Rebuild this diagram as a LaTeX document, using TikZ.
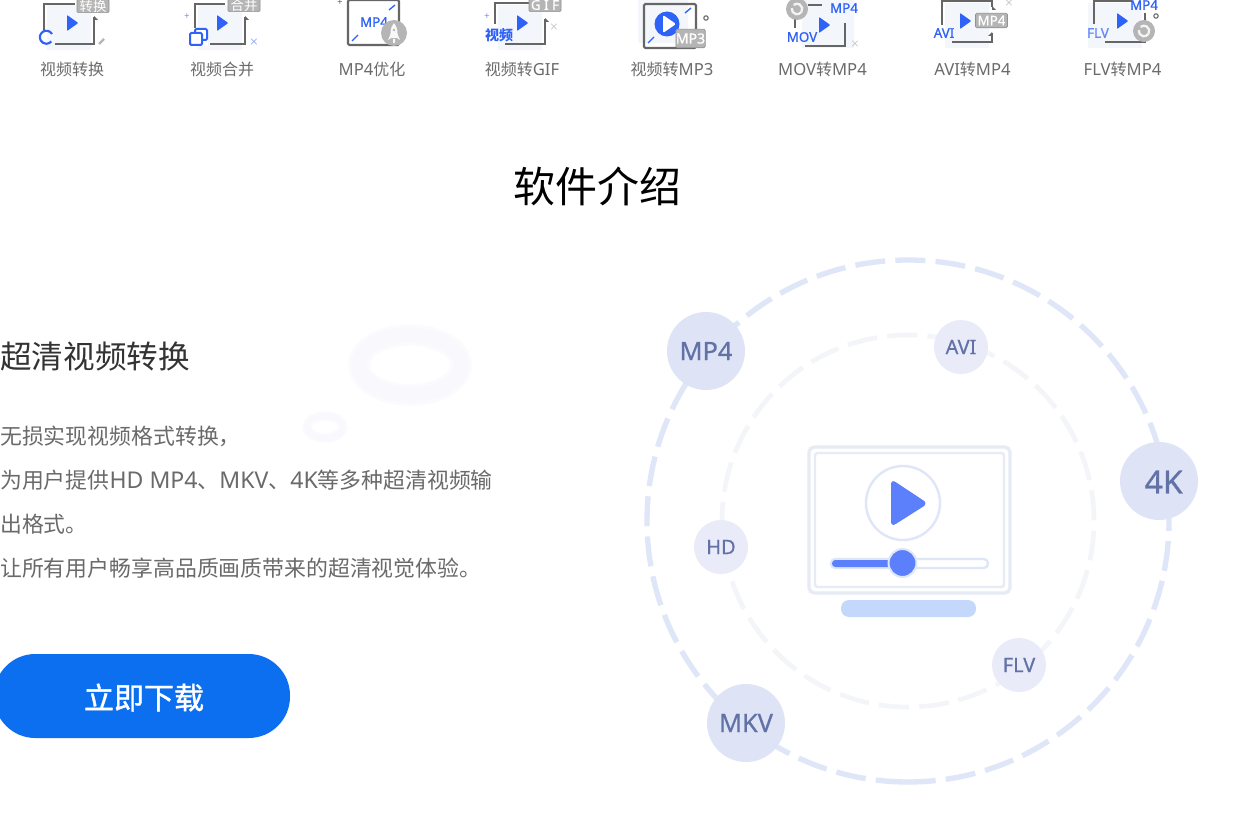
\documentclass[tikz,border=0pt]{standalone}
\usepackage{fontspec}
\setmainfont{Noto Sans CJK SC}
\newfontfamily\lat{Noto Sans}
\newfontfamily\latm[FakeBold=0.7]{Noto Sans}
\newfontfamily\semi[FakeBold=1.4]{Noto Sans CJK SC}
\newcommand{\llat}[1]{{\fontsize{12.5}{14}\selectfont\lat #1}}
\newcommand{\blat}[1]{{\fontsize{17.3}{20}\selectfont\lat #1}}
\definecolor{ringb}{HTML}{DFE6F8}
\definecolor{ringc}{HTML}{F3F5F9}
\definecolor{badgeA}{HTML}{DEE4F6}
\definecolor{badgeB}{HTML}{E9ECF8}
\definecolor{badgeT}{HTML}{6272A6}
\definecolor{ic}{HTML}{666666}
\definecolor{ib}{HTML}{2F62F6}
\definecolor{ipale}{HTML}{F3F6FA}
\definecolor{igray}{HTML}{B5B5B5}
\definecolor{labelc}{HTML}{6B6B6B}
\definecolor{body}{HTML}{6A6A6A}
\definecolor{btn}{HTML}{0B6FF0}
\definecolor{play}{HTML}{5C80FC}
\definecolor{frame}{HTML}{E7EBF5}
\definecolor{barc}{HTML}{C3D8FB}
\definecolor{blob}{HTML}{F8F8FD}
\tikzset{x=0.75pt,y=-0.75pt,
 lat/.style={execute at begin node=\latm},
 lab/.style={text=labelc,font=\fontsize{12}{14}\selectfont,inner sep=0,anchor=center},
 bl/.style={text=ib,font=\fontsize{10}{12}\selectfont,inner sep=0},
 tag/.style={fill=igray,draw=igray!80!black,line width=.5pt,rounded corners=1pt,text=white,inner sep=0,font=\fontsize{10}{11}\selectfont,anchor=center},
 bad/.style={circle,inner sep=0,text=badgeT,anchor=center},
 side/.style={draw=ic,line width=1.6pt},
 tiny/.style={inner sep=0,font=\fontsize{7}{8}\selectfont},
}
\newcommand{\tri}[3]{\fill[ib,rounded corners=.5pt] (#1,#2-#3) -- (#1+#3*1.41,#2) -- (#1,#2+#3) -- cycle;}
\newcommand{\tip}[2]{\fill[ic] (#1,#2) -- (#1+4,#2+4) -- (#1,#2+4) -- cycle;}
\newcommand{\disc}[3]{\fill[igray] (#1,#2) circle (#3);
 \draw[white!85!igray,line width=1.7pt] (#1,#2) ++(30:#3*0.48) arc (30:-130:#3*0.48);
 \draw[white!85!igray,line width=1.7pt] (#1,#2) ++(-170:#3*0.48) arc (-170:-330:#3*0.48);}
\begin{document}
\begin{tikzpicture}
\useasboundingbox (0,0) rectangle (1253,813);
\clip (0,0) rectangle (1253,813);
\fill[white] (0,0) rectangle (1253,813);
% icon 1
\fill[ipale] (47,5) rectangle (91,50);
\draw[side] (44,32) -- (44,4) -- (75,4);
\draw[side] (94,17) -- (94,44) -- (55,44);
\tip{94}{16}
\tri{67}{23}{8}
\node[tag,minimum width=24pt,minimum height=10pt] (t1) at (93,6) {转换};
\draw[ib,line width=1.6pt] (52,34) arc (-30:-320:6.5);
\draw[igray,line width=1.6pt] (99,44) -- (104,39);
\node[lab] (l1) at (72,69) {视频转换};
% icon 2
\fill[ipale] (198,5) rectangle (242,50);
\draw[side] (195,28) -- (195,4) -- (225,4);
\draw[side] (245,17) -- (245,44) -- (210,44);
\tip{245}{16}
\tri{217}{23}{8}
\node[tag,minimum width=24pt,minimum height=10pt] (t2) at (244,5) {合并};
\fill[white] (189,28) rectangle (208,46);
\draw[ib,line width=1.5pt,rounded corners=1pt] (195,29) rectangle (207,40);
\draw[ib,line width=1.5pt,fill=white,rounded corners=1pt] (190,33) rectangle (202,45);
\node[tiny,text=ib!70] (p2) at (187,17) {+};
\node[tiny,text=ib!70] (x2) at (254,42) {×};
\node[lab] (l2) at (222,69) {视频合并};
% icon 3
\draw[ic,line width=1.6pt,rounded corners=1pt,fill=white] (348,0) rectangle (399,45);
\draw[ib,line width=1pt] (389,10) -- (395,5) (352,41) -- (358,35);
\node[bl,lat] (m3) at (374,22) {MP4};
\fill[igray] (394,33) circle (13);
\fill[white!90!igray] (394,23) .. controls (390,28) and (390,33) .. (391,38) -- (397,38) .. controls (398,33) and (398,28) .. (394,23);
\fill[white!90!igray] (391,33) -- (388,40) -- (391,38) -- cycle (397,33) -- (400,40) -- (397,38) -- cycle (393,39) rectangle (395,43);
\fill[igray] (394,30) circle (1.4);
\node[tiny,text=ic] (p3) at (340,3) {+};
\node[lab] (l3) at (372,69) {\llat{MP4}优化};
% icon 4
\fill[ipale] (498,5) rectangle (542,50);
\draw[side] (495,24) -- (495,3) -- (530,3);
\draw[side] (545,19) -- (545,44) -- (505,44);
\tip{545}{18}
\tri{517}{23}{8}
\node[tag,lat,minimum width=24pt,minimum height=10pt] (t4) at (545,5) {G I F};
\node[bl,font=\fontsize{10.5}{12}\selectfont\bfseries] (v4) at (499,35) {视频};
\node[tiny,text=ib!70] (p4) at (487,17) {+};
\node[tiny,text=igray] (x4) at (554,27) {×};
\node[lab] (l4) at (522,69) {视频转\llat{GIF}};
% icon 5
\fill[ipale] (638,0) rectangle (688,43);
\draw[ic,line width=1.6pt,rounded corners=1pt] (644,4) rectangle (696,48);
\draw[ib,line width=1pt] (685,13) -- (691,8) (648,43) -- (654,37);
\fill[ib] (667,24) circle (12.5);
\fill[white,rounded corners=1pt] (663,15) -- (676,24) -- (663,33) -- cycle;
\node[tag,lat,minimum width=22pt,minimum height=14pt,font=\fontsize{10.5}{12}\selectfont] (t5) at (690.5,38.5) {MP3};
\draw[ic,line width=.8pt] (706,18) circle (2.2);
\node[lab] (l5) at (672,69) {视频转\llat{MP3}};
% icon 6
\fill[ipale] (802,0) rectangle (854,48);
\draw[side] (795,18) -- (795,28);
\draw[side] (845,23) -- (845,46) -- (805,46) (808,5) -- (822,5);
\tri{819}{25}{8}
\disc{797}{9}{11}
\node[bl,lat] (m6) at (844,8) {MP4};
\node[bl,lat] (o6) at (802,37) {MOV};
\node[tiny,text=igray] (x6) at (855,44) {×};
\node[lab] (l6) at (822.5,69) {\llat{MOV}转\llat{MP4}};
% icon 7
\fill[ipale] (945,3) rectangle (989,48);
\draw[side] (942,25) -- (942,1) -- (992,1) -- (992,7);
\draw[side] (992,33) -- (992,42) -- (952,42);
\tip{992}{6}
\fill[ic] (992,32) -- (988,36) -- (992,36) -- cycle;
\tri{960}{21}{8}
\node[tag,lat,minimum width=24pt,minimum height=11pt] (t7) at (991.5,20.5) {MP4};
\node[bl,lat] (a7) at (944,33) {AVI};
\node[tiny,text=igray] (x7) at (1009,3) {×};
\node[lab] (l7) at (972.5,69) {\llat{AVI}转\llat{MP4}};
% icon 8
\fill[ipale] (1088,3) rectangle (1142,48);
\draw[side] (1094,24) -- (1094,1) -- (1132,1);
\draw[side] (1145,13) -- (1145,42) -- (1105,42);
\tri{1117}{21}{8}
\node[bl,lat] (m8) at (1144,5) {MP4};
\node[bl,lat,text=ib!75] (f8) at (1098,33) {FLV};
\disc{1144}{31}{11}
\draw[ic,line width=.8pt] (1156,16) circle (2.2);
\node[lab] (l8) at (1122.5,69) {\llat{FLV}转\llat{MP4}};
% title
\node[inner sep=0,font=\fontsize{31.5}{36}\selectfont] (title) at (597,186) {软件介绍};
% blobs
\draw[blob!60!white,line width=16pt] (410,365) ellipse (51 and 30);
\draw[blob,line width=11pt] (410,365) ellipse (51 and 30);
\draw[blob!60!white,line width=7pt] (325,427) ellipse (18 and 11);
\draw[blob,line width=4pt] (325,427) ellipse (18 and 11);
% left text
\node[inner sep=0,anchor=west,text=black!80,font=\fontsize{23.7}{28}\selectfont] (h) at (0,357) {超清视频转换};
\foreach \n/\yy/\t in {a/436/无损实现视频格式转换，,b/480/为用户提供\blat{HD MP4}、\blat{MKV}、\blat{4K}等多种超清视频输,c/524/出格式。,d/568/让所有用户畅享高品质画质带来的超清视觉体验。}
 \node[inner sep=0,anchor=west,text=body,font=\fontsize{16.4}{20}\selectfont] (\n) at (0,\yy) {\t};
\fill[btn,rounded corners=31pt] (-6,654) rectangle (290,738);
\node[text=white,inner sep=0,font=\fontsize{22.5}{26}\selectfont\semi] (btnt) at (144,697.5) {立即下载};
% rings
\draw[ringb,line width=4pt,dash pattern=on 22.5pt off 7.69pt] (908,521) ++(90.5:261) arc (90.5:450.5:261);
\draw[ringc,line width=3.5pt,dash pattern=on 22.5pt off 7.74pt] (908,521) ++(77.3:186) arc (77.3:437.3:186);
% badges
\node[bad,fill=badgeA,minimum size=58.5pt,font=\fontsize{19}{22}\selectfont,lat] (mp4) at (706,351) {MP4};
\node[bad,fill=badgeB,minimum size=40.5pt,font=\fontsize{15}{18}\selectfont,lat] (avi) at (961,347) {AVI};
\node[bad,fill=badgeA,minimum size=58.5pt,font=\fontsize{24}{28}\selectfont,lat,text depth=0pt] (k4) at (1159,481) {\hspace{7pt}\raisebox{-1.5pt}{4K}};
\node[bad,fill=badgeB,minimum size=40.5pt,font=\fontsize{15}{18}\selectfont,lat] (hd) at (721,547) {HD};
\node[bad,fill=badgeB,minimum size=40.5pt,font=\fontsize{15}{18}\selectfont,lat] (flv) at (1019,665) {FLV};
\node[bad,fill=badgeA,minimum size=58.5pt,font=\fontsize{19}{22}\selectfont,lat] (mkv) at (746,723) {MKV};
% monitor
\draw[frame,line width=2.5pt,rounded corners=4pt,fill=white] (809,447) rectangle (1010,593);
\draw[frame,line width=1.8pt,rounded corners=2pt] (815,453) rectangle (1004,587);
\draw[ringb,line width=1.8pt,fill=white] (903,503) circle (37);
\fill[play,rounded corners=4pt] (891,479) -- (928,503.5) -- (891,527) -- cycle;
\draw[ringb,line width=1.8pt,fill=white,rounded corners=3.2pt] (831,559) rectangle (988,568);
\fill[play,rounded corners=2.5pt] (832,560) rectangle (900,567);
\fill[play,draw=ringb,line width=1.5pt] (902.5,563) circle (14);
\fill[barc,rounded corners=6pt] (841,600) rectangle (976,617);
\end{tikzpicture}
\end{document}
